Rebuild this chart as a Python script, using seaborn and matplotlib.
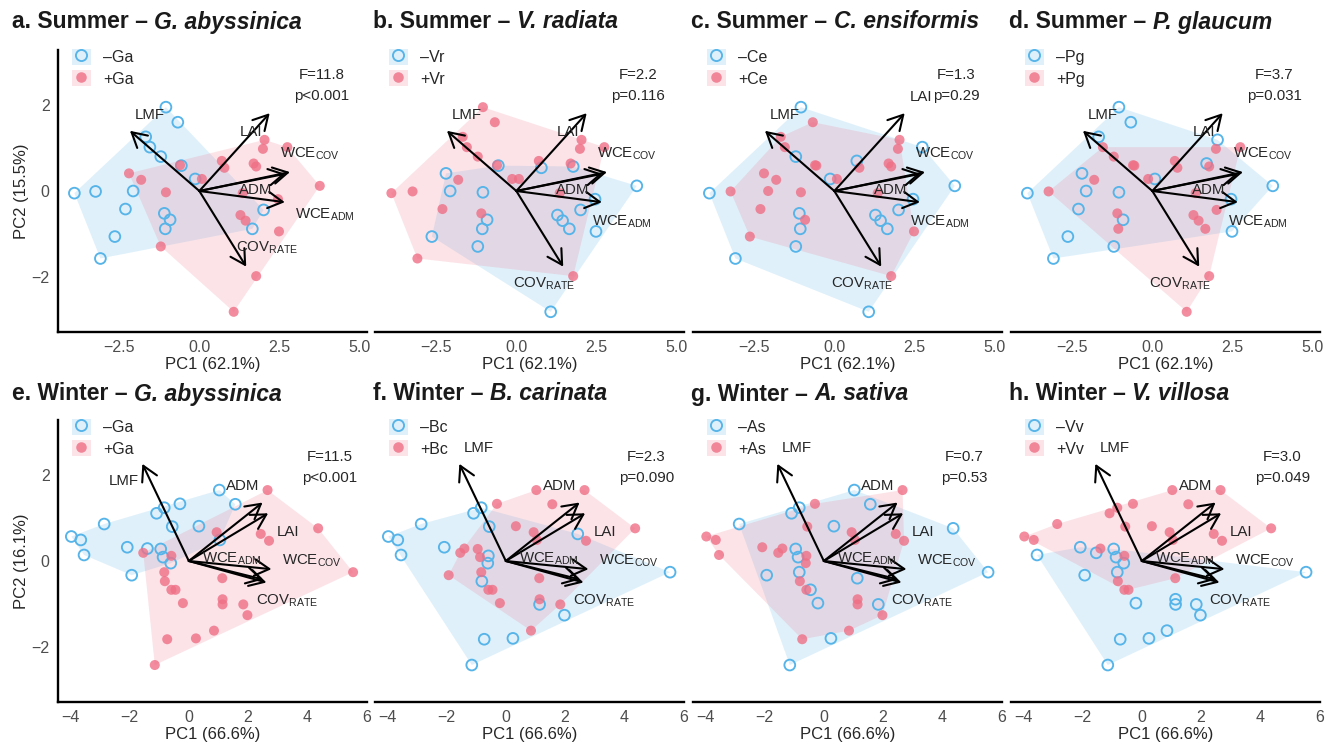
import numpy as np
import pandas as pd
import matplotlib
matplotlib.use("Agg")
import matplotlib.pyplot as plt
from matplotlib.patches import Polygon, Patch
from matplotlib.lines import Line2D
import seaborn as sns

# PCA scores, one set per season (the same plots in all four panels of a row)
summer_pc1 = [-1.04, -0.67, -1.67, -1.54, -1.20, -0.56, -0.60, -0.13, 0.08, -3.89,
              -3.23, -2.06, -2.30, -2.63, -3.08, -1.09, -0.91, -1.06, 1.65, 2.00,
              2.03, 1.98, 2.74, 0.70, 0.78, 1.69, 1.77, -2.19, -1.81, -1.04,
              3.75, 2.45, 1.28, 1.44, 2.48, -1.20, 1.77, 1.07, 1.35]
summer_pc2 = [1.95, 1.60, 1.26, 1.02, 0.80, 0.59, 0.60, 0.28, 0.28, -0.05,
              -0.01, 0.00, -0.42, -1.06, -1.57, -0.52, -0.67, -0.88, -0.88, -0.44,
              1.19, 0.98, 1.02, 0.70, 0.54, 0.64, 0.57, 0.41, 0.26, -0.03,
              0.12, -0.19, -0.56, -0.69, -0.94, -1.29, -1.98, -2.81, -0.05]

winter_pc1 = [-3.97, -3.65, -3.54, -2.86, -2.08, -1.93, -1.40, -1.09, -0.83, -0.30,
              -0.95, -0.87, -0.61, -0.56, 0.34, 1.03, 1.57, 1.05, -1.54, -0.59,
              -0.83, -0.81, -0.59, -0.45, -0.20, 0.94, 1.13, 1.14, 1.14, 1.84,
              1.98, 0.85, 0.24, -0.73, -1.15, 2.43, 2.71, 2.66, 4.37, 5.55]
winter_pc2 = [0.57, 0.49, 0.14, 0.86, 0.32, -0.33, 0.29, 1.11, 1.24, 1.33,
              0.28, 0.09, -0.05, 0.80, 0.81, 1.65, 1.32, 0.49, 0.19, 0.12,
              -0.26, -0.47, -0.67, -0.67, -0.98, 0.67, -0.40, -0.89, -1.01, -1.01,
              -1.26, -1.62, -1.80, -1.82, -2.42, 0.63, 0.47, 1.65, 0.76, -0.26]

# presence (1) / absence (0) of each cover crop species in the mixture
plus_ga_summer = [0, 0, 0, 0, 0, 0, 1, 0, 1, 0, 0, 0, 0, 0, 0, 0, 0, 0, 0, 0,
                  1, 1, 1, 1, 1, 1, 1, 1, 1, 1, 1, 1, 1, 1, 1, 1, 1, 1, 1]
plus_vr = [1, 1, 1, 1, 1, 0, 1, 1, 1, 1, 1, 0, 1, 0, 1, 1, 0, 0, 0, 0,
           1, 1, 1, 1, 0, 1, 0, 0, 1, 0, 0, 0, 0, 0, 0, 0, 1, 0, 1]
plus_ce = [0, 1, 1, 1, 0, 1, 1, 0, 1, 0, 1, 1, 1, 1, 0, 0, 1, 0, 0, 0,
           1, 1, 0, 0, 1, 1, 1, 1, 1, 1, 0, 0, 0, 0, 1, 0, 1, 0, 1]
plus_pg = [0, 0, 0, 1, 1, 1, 1, 1, 0, 0, 1, 0, 0, 0, 0, 1, 0, 1, 1, 1,
           0, 1, 1, 1, 1, 0, 1, 0, 1, 0, 0, 0, 1, 1, 0, 0, 1, 1, 1]

plus_ga_winter = [0] * 18 + [1] * 22
plus_bc = [0, 0, 0, 0, 0, 1, 1, 0, 0, 1, 1, 1, 0, 0, 1, 1, 1, 1, 1, 0,
           1, 0, 1, 1, 1, 1, 1, 1, 0, 1, 0, 1, 0, 0, 0, 0, 1, 1, 1, 0]
plus_as = [1, 1, 1, 0, 1, 0, 1, 0, 0, 1, 0, 0, 1, 1, 0, 0, 0, 1, 1, 1,
           0, 1, 1, 0, 0, 1, 0, 1, 1, 0, 1, 1, 0, 1, 0, 1, 1, 1, 0, 0]
plus_vv = [1, 1, 0, 1, 0, 0, 1, 1, 1, 1, 0, 0, 0, 1, 1, 1, 1, 1, 0, 1,
           0, 1, 1, 1, 0, 1, 1, 0, 0, 0, 0, 0, 0, 0, 0, 1, 1, 1, 1, 0]

# loading arrows
arrow_names = ["LMF", "LAI", "ADM", "WCE$_{COV}$", "WCE$_{ADM}$", "COV$_{RATE}$"]
summer_load_pc1 = [-2.16, 2.19, 2.68, 2.82, 2.66, 1.46]
summer_load_pc2 = [1.40, 1.81, 0.40, 0.44, -0.26, -1.76]
winter_load_pc1 = [-1.57, 2.68, 2.49, 2.79, 2.51, 2.62]
winter_load_pc2 = [2.26, 1.11, 1.36, -0.19, -0.43, -0.50]

# panels
letters = ["a", "b", "c", "d", "e", "f", "g", "h"]
seasons = ["Summer"] * 4 + ["Winter"] * 4
species = ["G. abyssinica", "V. radiata", "C. ensiformis", "P. glaucum",
           "G. abyssinica", "B. carinata", "A. sativa", "V. villosa"]
codes = ["Ga", "Vr", "Ce", "Pg", "Ga", "Bc", "As", "Vv"]
f_stats = ["11.8", "2.2", "1.3", "3.7", "11.5", "2.3", "0.7", "3.0"]
p_stats = ["p<0.001", "p=0.116", "p=0.29", "p=0.031", "p<0.001", "p=0.090", "p=0.53", "p=0.049"]
presence = [plus_ga_summer, plus_vr, plus_ce, plus_pg, plus_ga_winter, plus_bc, plus_as, plus_vv]

# label placement of the loading names (data units, following the figure)
summer_lab = {"LMF": (-1.55, 1.77), "LAI": (1.6, 1.38), "ADM": (1.74, 0.03),
              "WCE$_{COV}$": (3.43, 0.87), "WCE$_{ADM}$": (3.27, -0.71),
              "COV$_{RATE}$": (0.85, -2.17)}
winter_lab = {"LMF": (-0.93, 2.64), "LAI": (3.36, 0.67), "ADM": (1.83, 1.75),
              "WCE$_{COV}$": (4.15, 0.0), "WCE$_{ADM}$": (1.44, 0.04),
              "COV$_{RATE}$": (3.32, -0.93)}
lab_override = {"a": {"WCE$_{ADM}$": (3.9, -0.56), "COV$_{RATE}$": (2.1, -1.31)},
                "c": {"LAI": (2.71, 2.19)},
                "e": {"LMF": (-2.19, 1.86)}}

sns.set_style("white")
plt.rcParams["font.family"] = ["Liberation Sans", "DejaVu Sans"]
plt.rcParams["mathtext.default"] = "regular"

BLUE = "#56B4E9"
RED = "#EF6F86"


def convex_hull(x, y):
    pts = sorted(set(zip(x, y)))

    def cross(o, a, b):
        return (a[0] - o[0]) * (b[1] - o[1]) - (a[1] - o[1]) * (b[0] - o[0])

    lower, upper = [], []
    for p in pts:
        while len(lower) >= 2 and cross(lower[-2], lower[-1], p) <= 0:
            lower.pop()
        lower.append(p)
    for p in reversed(pts):
        while len(upper) >= 2 and cross(upper[-2], upper[-1], p) <= 0:
            upper.pop()
        upper.append(p)
    return lower[:-1] + upper[:-1]


fig = plt.figure(figsize=(13.35, 7.44), dpi=100)
lefts = [58, 375, 693, 1011]
W, H = 309, 282
tops = [50, 420]

for i in range(8):
    row, col = divmod(i, 4)
    ax = fig.add_axes([lefts[col] / 1335, 1 - (tops[row] + H) / 744, W / 1335, H / 744])
    summer = row == 0
    df = pd.DataFrame({
        "PC1": summer_pc1 if summer else winter_pc1,
        "PC2": summer_pc2 if summer else winter_pc2,
        "plus": presence[i],
    })
    minus_df = df[df["plus"] == 0]
    plus_df = df[df["plus"] == 1]

    # group hulls
    for sub, colr in [(minus_df, BLUE), (plus_df, RED)]:
        hull = convex_hull(sub["PC1"], sub["PC2"])
        ax.add_patch(Polygon(hull, closed=True, facecolor=colr, alpha=0.19,
                             edgecolor="none", zorder=1))

    sns.scatterplot(data=minus_df, x="PC1", y="PC2", ax=ax, marker="o", s=60,
                    facecolors="none", edgecolor=BLUE, linewidth=1.35, legend=False, zorder=3)
    sns.scatterplot(data=plus_df, x="PC1", y="PC2", ax=ax, marker="o", s=52,
                    color=RED, alpha=0.8, edgecolor="none", legend=False, zorder=3)

    # loadings
    lx = summer_load_pc1 if summer else winter_load_pc1
    ly = summer_load_pc2 if summer else winter_load_pc2
    for vx, vy in zip(lx, ly):
        ax.annotate("", xy=(vx, vy), xytext=(0, 0),
                    arrowprops=dict(arrowstyle="->,head_length=0.5,head_width=0.28",
                                    color="black", lw=1.5, shrinkA=0, shrinkB=0,
                                    mutation_scale=21), zorder=4)
    labs = dict(summer_lab if summer else winter_lab)
    labs.update(lab_override.get(letters[i], {}))
    for name in arrow_names:
        tx, ty = labs[name]
        ax.text(tx, ty, name, ha="center", va="center", fontsize=10.8, zorder=5)

    # PERMANOVA stats
    sx, sy1, sy2 = (3.8, 2.7, 2.2) if summer else (4.75, 2.42, 1.93)
    ax.text(sx, sy1, f"F={f_stats[i]}", ha="center", va="center", fontsize=10.8)
    ax.text(sx, sy2, p_stats[i], ha="center", va="center", fontsize=10.8)

    # legend
    handles = [(Patch(facecolor=BLUE, alpha=0.19, edgecolor="none"),
                Line2D([], [], ls="", marker="o", mfc="none", mec=BLUE, mew=1.35, ms=8)),
               (Patch(facecolor=RED, alpha=0.19, edgecolor="none"),
                Line2D([], [], ls="", marker="o", mfc=RED, mec="none", alpha=0.8, ms=7.6))]
    ax.legend(handles, ["\u2013" + codes[i], "+" + codes[i]], loc="upper left",
              bbox_to_anchor=(0.045, 1.005), frameon=False, fontsize=11.5,
              handlelength=1.2, handleheight=1.2, labelspacing=0.3,
              handletextpad=0.75, borderaxespad=0, borderpad=0)

    # axes
    if summer:
        ax.set_xlim(-4.4, 5.22)
        ax.set_xticks([-2.5, 0, 2.5, 5.0])
        ax.set_xticklabels(["\u22122.5", "0.0", "2.5", "5.0"])
        ax.set_xlabel("PC1 (62.1%)", fontsize=12, labelpad=1)
    else:
        ax.set_xlim(-4.42, 6.02)
        ax.set_xticks([-4, -2, 0, 2, 4, 6])
        ax.set_xlabel("PC1 (66.6%)", fontsize=12, labelpad=1)
    ax.set_ylim(-3.28, 3.28)
    ax.set_yticks([-2, 0, 2])
    sns.despine(ax=ax, left=(col != 0))
    for sp in ["bottom", "left"]:
        ax.spines[sp].set_linewidth(1.7)
        ax.spines[sp].set_color("black")
    ax.tick_params(axis="both", direction="out", length=4, width=1, color="#333333",
                   labelsize=11.5, labelcolor="#4D4D4D", pad=2)
    if col == 0:
        ax.set_ylabel("PC2 (15.5%)" if summer else "PC2 (16.1%)", fontsize=12, labelpad=2)
    else:
        ax.set_ylabel("")
        ax.tick_params(axis="y", left=False, labelleft=False)

    # title: bold part, then bold italic species name
    tx = 0.009 if col == 0 else (lefts[col] - 2) / 1335
    ty = 1 - (22 if summer else 394) / 744
    t1 = fig.text(tx, ty, f"{letters[i]}. {seasons[i]} \u2013 ", fontsize=16.5,
                  fontweight="bold", va="center", ha="left", color="#1a1a1a")
    ax.annotate(species[i], xy=(1, 0.5), xycoords=t1, va="center", ha="left",
                fontsize=16.5, fontweight="bold", fontstyle="italic", color="#1a1a1a",
                annotation_clip=False)

fig.savefig("out.png", dpi=100)
